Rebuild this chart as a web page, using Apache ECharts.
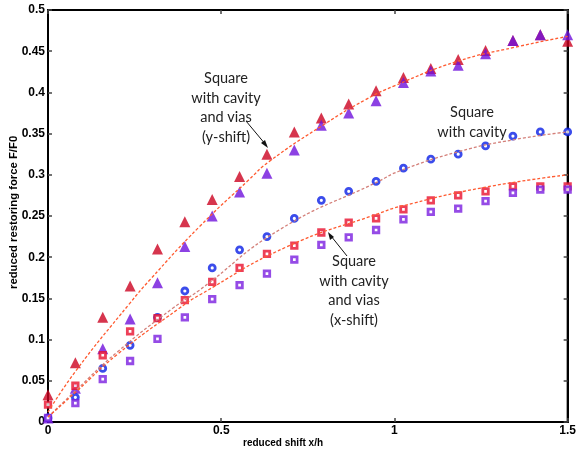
<!DOCTYPE html>
<html>
<head>
<meta charset="utf-8">
<script src="https://cdn.jsdelivr.net/npm/echarts@6/dist/echarts.min.js"></script>
<style>
  html, body { margin: 0; padding: 0; background: #fff; }
  #chart { width: 579px; height: 454px; }
</style>
</head>
<body>
<div id="chart"></div>
<script>
// reduced shift x/h for every measured point
var shiftX = [0, 0.079, 0.158, 0.237, 0.316, 0.395, 0.474, 0.553, 0.632, 0.711,
  0.789, 0.868, 0.947, 1.026, 1.105, 1.184, 1.263, 1.342, 1.421, 1.5];

// cavity + vias, y-shift (red / purple triangles)
var viasYRed = [0.033, 0.072, 0.127, 0.165, 0.210, 0.243, 0.270, 0.298, 0.325, 0.352,
  0.369, 0.386, 0.402, 0.418, 0.429, 0.440, 0.451, 0.463, 0.470, 0.462];
var viasYPurple = [0.005, 0.041, 0.089, 0.125, 0.169, 0.213, 0.250, 0.279, 0.302, 0.330,
  0.360, 0.375, 0.390, 0.412, 0.426, 0.433, 0.447, 0.463, 0.470, 0.470];
// cavity only (blue circles)
var cavity = [0.005, 0.030, 0.065, 0.093, 0.127, 0.159, 0.187, 0.209, 0.225, 0.247,
  0.269, 0.280, 0.292, 0.308, 0.319, 0.325, 0.335, 0.347, 0.352, 0.352];
// cavity + vias, x-shift (red / purple squares)
var viasXRed = [0.021, 0.044, 0.081, 0.110, 0.126, 0.148, 0.170, 0.187, 0.204, 0.214,
  0.230, 0.242, 0.247, 0.258, 0.269, 0.275, 0.280, 0.286, 0.286, 0.286];
var viasXPurple = [0.005, 0.023, 0.052, 0.074, 0.101, 0.127, 0.149, 0.166, 0.180, 0.197,
  0.215, 0.224, 0.233, 0.246, 0.255, 0.259, 0.268, 0.278, 0.282, 0.282];

// dashed fit curves [x, y]
var fitY = [[0, 0.012], [0.082, 0.063], [0.236, 0.144], [0.293, 0.172], [0.437, 0.237],
  [0.58, 0.294], [0.638, 0.316], [0.8, 0.362], [0.916, 0.391], [1.0, 0.408],
  [1.184, 0.438], [1.35, 0.455], [1.5, 0.468]];
var fitCavity = [[0, 0.006], [0.082, 0.039], [0.2, 0.085], [0.36, 0.138], [0.437, 0.160],
  [0.667, 0.233], [0.954, 0.292], [1.011, 0.304], [1.184, 0.328], [1.35, 0.343], [1.5, 0.352]];
var fitX = [[0, 0.006], [0.082, 0.037], [0.2, 0.082], [0.379, 0.138], [0.437, 0.154],
  [0.686, 0.212], [0.954, 0.253], [1.011, 0.261], [1.25, 0.284], [1.5, 0.300]];

var labelFont = 'Liberation Sans, Arial, sans-serif';
var noteFont = 'Lato, Liberation Sans, sans-serif';

function pairs(ys) {
  return ys.map(function (y, i) { return [shiftX[i], y]; });
}

function fitLine(data, color) {
  return {
    type: 'line', data: data, smooth: true, showSymbol: false, silent: true,
    lineStyle: { color: color, width: 1.3, type: [3, 2] }, z: 3
  };
}

function boxAxis(extra) {
  return Object.assign({
    axisLine: { show: true, onZero: false, lineStyle: { color: '#000', width: 2 } },
    axisTick: { show: true, inside: true, length: 4, lineStyle: { color: '#444', width: 1.5 } },
    splitLine: { show: false }
  }, extra);
}

var chart = echarts.init(document.getElementById('chart'));
chart.setOption({
  animation: false,
  grid: { left: 48, right: 9, top: 10, bottom: 32, show: true, borderColor: '#000', borderWidth: 2 },
  xAxis: [
    boxAxis({
      type: 'value', min: 0, max: 1.5, interval: 0.5,
      axisLabel: { color: '#000', fontWeight: 'bold', fontFamily: labelFont, fontSize: 12, margin: 3 }
    }),
    boxAxis({ type: 'value', min: 0, max: 1.5, interval: 0.5, position: 'top', axisLabel: { show: false } })
  ],
  yAxis: [
    boxAxis({
      type: 'value', min: 0, max: 0.5, interval: 0.05,
      axisLabel: { color: '#000', fontWeight: 'bold', fontFamily: labelFont, fontSize: 12, margin: 3 }
    }),
    boxAxis({ type: 'value', min: 0, max: 0.5, interval: 0.05, position: 'right', axisLabel: { show: false } })
  ],
  graphic: [
    {
      type: 'text', x: 243, y: 438,
      style: { text: 'reduced shift x/h', fontFamily: labelFont, fontWeight: 'bold', fontSize: 10, fill: '#000' }
    },
    {
      type: 'text', x: 8, y: 289, rotation: Math.PI / 2,
      style: { text: 'reduced restoring force F/F0', fontFamily: labelFont, fontWeight: 'bold', fontSize: 11.3, fill: '#000' }
    },
    {
      type: 'text', x: 226, y: 69,
      style: { text: 'Square\nwith cavity\nand vias\n(y-shift)', align: 'center', lineHeight: 19.5,
        fontFamily: noteFont, fontSize: 14.5, fill: '#222' }
    },
    {
      type: 'text', x: 472, y: 103,
      style: { text: 'Square\nwith cavity', align: 'center', lineHeight: 19.5,
        fontFamily: noteFont, fontSize: 14.5, fill: '#222' }
    },
    {
      type: 'text', x: 354, y: 252,
      style: { text: 'Square\nwith cavity\nand vias\n(x-shift)', align: 'center', lineHeight: 19.5,
        fontFamily: noteFont, fontSize: 14.5, fill: '#222' }
    },
    {
      type: 'line', shape: { x1: 246, y1: 121, x2: 266, y2: 145 },
      style: { stroke: '#111', lineWidth: 1 }
    },
    {
      type: 'polygon', shape: { points: [[268, 148], [261, 143], [265, 140]] },
      style: { fill: '#111' }
    },
    {
      type: 'line', shape: { x1: 347, y1: 256, x2: 331, y2: 236 },
      style: { stroke: '#111', lineWidth: 1 }
    },
    {
      type: 'polygon', shape: { points: [[328, 232], [330, 240], [334, 237]] },
      style: { fill: '#111' }
    }
  ],
  series: [
    fitLine(fitY, '#ff5a30'),
    fitLine(fitCavity, '#d4807a'),
    fitLine(fitX, '#ff5a30'),
    {
      type: 'scatter', data: pairs(viasYRed), symbol: 'triangle', symbolSize: 11,
      itemStyle: { color: '#cc0220' }, z: 2
    },
    {
      type: 'scatter', data: pairs(viasYPurple), symbol: 'triangle', symbolSize: 11,
      itemStyle: { color: '#6f12dc' }, z: 2
    },
    {
      type: 'scatter', data: pairs(cavity), symbol: 'circle', symbolSize: 6,
      itemStyle: { color: '#fff', borderColor: '#0a1fe6', borderWidth: 2.8 }, z: 2
    },
    {
      type: 'scatter', data: pairs(viasXRed), symbol: 'rect', symbolSize: 5.5,
      itemStyle: { color: '#fff', borderColor: '#e8102e', borderWidth: 2.8 }, z: 2
    },
    {
      type: 'scatter', data: pairs(viasXPurple), symbol: 'rect', symbolSize: 5.5,
      itemStyle: { color: '#fff', borderColor: '#7a1ee0', borderWidth: 2.8 }, z: 2
    }
  ]
});
</script>
</body>
</html>
